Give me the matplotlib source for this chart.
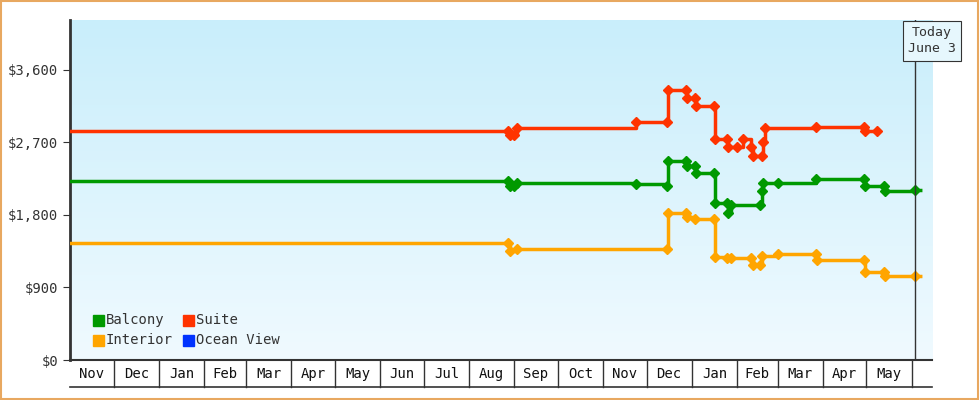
import matplotlib
matplotlib.use("Agg")
import matplotlib.pyplot as plt
import numpy as np
from matplotlib.patches import Rectangle
from matplotlib.colors import LinearSegmentedColormap

plt.rcParams['font.family'] = ['DejaVu Sans Mono']

months = ["Nov","Dec","Jan","Feb","Mar","Apr","May","Jun","Jul","Aug","Sep","Oct",
          "Nov","Dec","Jan","Feb","Mar","Apr","May"]
month_len = [30,31,31,29,31,30,31,30,31,31,30,31,30,31,31,28,31,30,31]

suite_d = [0,301,302,305,307,389,410,411,423,424,429,430,442,443,451,452,458,462,468,469,475,476,477,512,545,546,554]
suite_v = [2840,2840,2790,2790,2880,2955,2955,3350,3350,3250,3250,3150,3150,2740,2740,2645,2645,2740,2645,2530,2530,2706,2880,2890,2890,2843,2843]

balc_d = [0,301,302,305,307,389,410,411,423,424,429,430,442,443,451,452,454,474,475,476,486,512,545,546,559,560,580]
balc_v = [2222,2222,2160,2160,2200,2185,2160,2470,2470,2408,2408,2321,2321,1949,1949,1825,1924,1924,2098,2197,2197,2247,2247,2160,2160,2098,2110]

int_d = [0,301,302,307,410,411,423,424,429,442,443,451,454,468,469,474,475,486,512,513,545,546,559,560,580]
int_v = [1452,1452,1353,1378,1378,1825,1825,1775,1750,1750,1279,1266,1266,1266,1180,1180,1291,1316,1316,1241,1241,1092,1092,1043,1043]

today_d = 580
end_d = 592

fig = plt.figure(figsize=(9.8,4.0), dpi=100)
fig.patch.set_facecolor('white')
fig.add_artist(Rectangle((0.001,0.003),0.997,0.994, transform=fig.transFigure,
               fill=False, edgecolor='#e8a860', lw=1.5))
ax = fig.add_axes([70/980, 40/400, 862/980, 340/400])
ymax = 4220
ax.set_xlim(0, end_d)
ax.set_ylim(0, ymax)
grad = np.linspace(0,1,256).reshape(-1,1)
cm = LinearSegmentedColormap.from_list('g', ['#f0faff', '#c9eefb'])
ax.imshow(grad, aspect='auto', cmap=cm, extent=[0,end_d,0,ymax], origin='lower', zorder=0)

for d, v, c in [(suite_d, suite_v, '#ff3300'), (balc_d, balc_v, '#009900'), (int_d, int_v, '#ffa500')]:
    ax.plot(d, v, drawstyle='steps-post', color=c, lw=2.5, zorder=3)
    ax.plot(d[1:], v[1:], 'D', color=c, ms=5.5, zorder=4)
for d, v, c in [(balc_d, balc_v, '#009900'), (int_d, int_v, '#ffa500')]:
    ax.plot([today_d, end_d], [v[-1], v[-1]], color=c, lw=2.5, ls=(0,(2,3)), zorder=3)

ax.axvline(today_d, color='#333333', lw=1, zorder=5)
ax.text(today_d+12, ymax-80, "Today\nJune 3", ha='center', va='top', fontsize=9.5, color='#333333',
        bbox=dict(boxstyle='square,pad=0.4', fc='#e6f7fd', ec='#333333', lw=0.8), zorder=6, linespacing=1.3)

ax.set_yticks([0,900,1800,2700,3600])
ax.set_yticklabels(["$0","$900","$1,800","$2,700","$3,600"], fontsize=10, color='#333333')
ax.set_xticks([])
for s in ['top','right']:
    ax.spines[s].set_visible(False)
ax.spines['left'].set_linewidth(2)
ax.spines['left'].set_color('#333333')
ax.spines['bottom'].set_color('#333333')
ax.spines['bottom'].set_linewidth(1.5)
ax.tick_params(axis='y', length=5, color='#333333')

pos = 0
trans = ax.get_xaxis_transform()
for m, L in zip(months, month_len):
    ax.text(pos + L/2, -0.04, m, ha='center', va='center', fontsize=10, transform=trans, color='#111111', clip_on=False)
    pos += L
    ax.plot([pos,pos], [0,-0.08], transform=trans, color='#333333', lw=1, clip_on=False)
ax.plot([0,end_d],[-0.08,-0.08], transform=trans, color='#333333', lw=1.2, clip_on=False)

leg = [("Balcony",'#009900',20,320),("Suite",'#ff3300',110,320),("Interior",'#ffa500',20,340),("Ocean View",'#0033ff',110,340)]
for name, c, lx, ly in leg:
    fig.add_artist(Rectangle(((70+lx+3)/980, 1-(ly+6)/400), 11/980, 11/400, transform=fig.transFigure, color=c))
    fig.text((70+lx+16)/980, 1-ly/400, name, fontsize=10, va='center', color='#333333')

fig.savefig("out.png", dpi=100)
